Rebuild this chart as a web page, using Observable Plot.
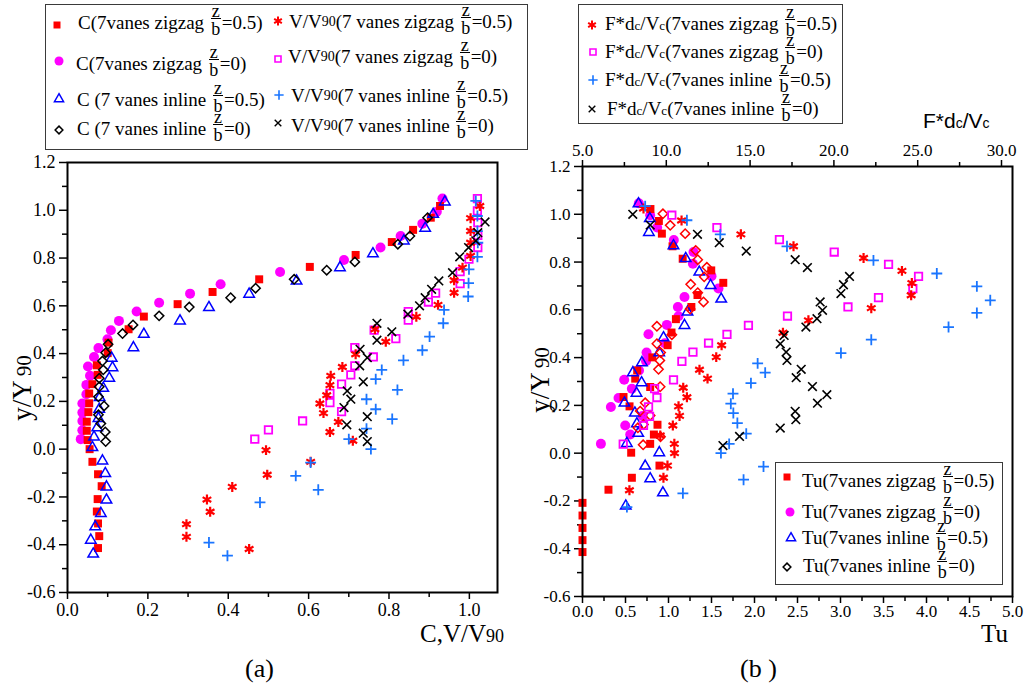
<!DOCTYPE html>
<html><head><meta charset="utf-8">
<script src="https://cdn.jsdelivr.net/npm/d3@7"></script>
<script src="https://cdn.jsdelivr.net/npm/@observablehq/plot@0.6"></script>
<style>
html,body{margin:0;padding:0;background:#fff;}
#root{position:relative;width:1026px;height:688px;overflow:hidden;font-family:"Liberation Serif","Times New Roman",serif;color:#000;}
.abs{position:absolute;white-space:nowrap;}
.box{position:absolute;border:1px solid #3a3a3a;box-sizing:border-box;background:#fff;}
.leg{position:absolute;white-space:nowrap;font-size:19px;line-height:19px;}
.frac{display:inline-block;position:relative;width:10px;height:0;margin:0 1px 0 2px;}
.frac .z,.frac .b{position:absolute;left:0;width:100%;text-align:center;line-height:16px;font-size:18px;}
.frac .z{bottom:10px;}
.frac .b{top:-8px;}
.frac .bar{position:absolute;left:0;width:100%;height:1px;background:#000;bottom:10px;}
.sm{font-size:14px;vertical-align:2px;}
.sc{font-size:13px;vertical-align:0px;}
.sym{position:absolute;overflow:visible;}
.rot{position:absolute;white-space:nowrap;transform:translate(-50%,-50%) rotate(-90deg);}
</style></head>
<body><div id="root"></div>
<script>
// ---------------- DATA: panel (a) ----------------
const aYTicks = [-0.6,-0.4,-0.2,0,0.2,0.4,0.6,0.8,1.0,1.2];
const aYMinor = [-0.5,-0.3,-0.1,0.1,0.3,0.5,0.7,0.9,1.1];
const aXTicks = [0,0.2,0.4,0.6,0.8,1.0];
const aXMinor = [0.1,0.3,0.5,0.7,0.9];

// C (7vanes zigzag z/b=0.5) red filled squares
const aCZig05X = [0.927,0.904,0.86,0.807,0.717,0.603,0.477,0.361,0.274,0.19,0.152,0.102,0.1,0.073,0.075,0.062,0.054,0.054,0.052,0.048,0.048,0.05,0.055,0.062,0.076,0.085,0.075,0.073,0.076,0.079,0.076];
const aCZig05Y = [1.018,0.969,0.918,0.867,0.813,0.763,0.711,0.658,0.607,0.555,0.502,0.446,0.402,0.351,0.311,0.272,0.233,0.192,0.155,0.115,0.077,0.038,0.0,-0.053,-0.105,-0.155,-0.209,-0.261,-0.311,-0.364,-0.414];
// C (7vanes zigzag z/b=0) magenta circles
const aCZig0X = [0.933,0.919,0.883,0.829,0.779,0.688,0.529,0.381,0.305,0.228,0.172,0.128,0.108,0.0995,0.077,0.066,0.051,0.056,0.047,0.047,0.037,0.037,0.037,0.037,0.033];
const aCZig0Y = [1.049,0.994,0.944,0.892,0.844,0.792,0.742,0.69,0.651,0.613,0.576,0.537,0.498,0.46,0.423,0.386,0.346,0.307,0.269,0.23,0.191,0.153,0.118,0.079,0.042];
// C (7 vanes inline z/b=0.5) blue open triangles
const aCIn05X = [0.939,0.91,0.89,0.837,0.76,0.678,0.57,0.452,0.352,0.28,0.19,0.164,0.11,0.112,0.104,0.089,0.08,0.079,0.077,0.074,0.066,0.062,0.087,0.094,0.097,0.097,0.083,0.069,0.058,0.064];
const aCIn05Y = [1.035,0.983,0.925,0.872,0.818,0.76,0.704,0.649,0.593,0.537,0.481,0.425,0.381,0.341,0.297,0.255,0.216,0.167,0.129,0.09,0.051,0.007,-0.049,-0.102,-0.158,-0.213,-0.269,-0.325,-0.381,-0.439];
// C (7 vanes inline z/b=0) black open diamonds
const aCIn0X = [0.896,0.852,0.822,0.715,0.645,0.564,0.468,0.406,0.303,0.228,0.163,0.137,0.101,0.095,0.087,0.089,0.079,0.079,0.077,0.091,0.077,0.083,0.094,0.095];
const aCIn0Y = [0.969,0.892,0.858,0.784,0.749,0.711,0.674,0.634,0.595,0.558,0.52,0.484,0.439,0.404,0.369,0.332,0.297,0.261,0.219,0.181,0.144,0.107,0.072,0.032];
// V/V90 (7 vanes zigzag z/b=0.5) red asterisks
const aVZig05X = [1.026,1.003,1.003,1.003,1.003,0.983,0.962,0.962,0.922,0.868,0.765,0.792,0.717,0.684,0.655,0.653,0.645,0.628,0.637,0.674,0.653,0.71,0.494,0.605,0.497,0.41,0.347,0.355,0.296,0.296,0.452];
const aVZig05Y = [1.018,0.967,0.913,0.864,0.809,0.76,0.707,0.655,0.604,0.554,0.502,0.45,0.397,0.344,0.307,0.268,0.226,0.191,0.151,0.114,0.072,0.035,-0.004,-0.053,-0.107,-0.158,-0.211,-0.262,-0.314,-0.367,-0.418];
// V/V90 (7 vanes zigzag z/b=0) magenta open squares
const aVZig0X = [1.02,1.02,1.021,1.021,1.021,0.999,0.977,0.977,0.916,0.898,0.848,0.848,0.763,0.817,0.715,0.761,0.715,0.705,0.682,0.653,0.653,0.682,0.585,0.5,0.466];
const aVZig0Y = [1.049,0.997,0.948,0.895,0.844,0.795,0.743,0.693,0.653,0.616,0.576,0.54,0.498,0.463,0.425,0.386,0.349,0.311,0.272,0.234,0.195,0.157,0.118,0.081,0.042];
// V/V90 (7 vanes inline z/b=0.5) blue plus
const aVIn05X = [1.016,1.02,1.02,1.021,1.02,0.999,0.998,0.997,0.937,0.935,0.901,0.883,0.836,0.782,0.767,0.821,0.744,0.767,0.808,0.744,0.70,0.755,0.605,0.568,0.624,0.479,0.352,0.398];
const aVIn05Y = [1.039,0.976,0.913,0.864,0.805,0.753,0.695,0.639,0.583,0.527,0.471,0.414,0.372,0.332,0.293,0.248,0.209,0.167,0.126,0.086,0.042,0.0,-0.056,-0.112,-0.17,-0.223,-0.391,-0.446];
// V/V90 (7 vanes inline z/b=0) black times
const aVIn0X = [1.039,1.021,1.016,0.998,0.976,0.958,0.924,0.906,0.89,0.876,0.847,0.77,0.807,0.77,0.728,0.746,0.727,0.736,0.696,0.705,0.688,0.746,0.695,0.736,0.746];
const aVIn0Y = [0.951,0.906,0.872,0.844,0.805,0.739,0.704,0.669,0.634,0.6,0.565,0.527,0.491,0.456,0.418,0.383,0.349,0.282,0.244,0.209,0.174,0.136,0.102,0.067,0.032];

// ---------------- DATA: panel (b) ----------------
const bYTicks = [-0.6,-0.4,-0.2,0,0.2,0.4,0.6,0.8,1.0,1.2];
const bYMinor = [-0.5,-0.3,-0.1,0.1,0.3,0.5,0.7,0.9,1.1];
const bTuTicks = [0,0.5,1.0,1.5,2.0,2.5,3.0,3.5,4.0,4.5,5.0];
const bTuMinor = [0.25,0.75,1.25,1.75,2.25,2.75,3.25,3.75,4.25,4.75];
const bFTicks = [5,10,15,20,25,30];
const bFMinor = [7.5,12.5,17.5,22.5,27.5];

// Tu (7vanes zigzag z/b=0.5) red filled squares
const bTuZig05X = [0.79,0.888,0.923,1.047,1.165,1.497,1.637,1.337,1.266,1.086,1.035,0.99,0.812,0.636,0.613,0.787,0.477,0.547,0.872,0.83,0.787,0.566,0.895,0.574,0.302,0.0,0.0,0.0,0.0,0.0];
const bTuZig05Y = [1.022,0.972,0.919,0.866,0.814,0.765,0.713,0.662,0.612,0.561,0.505,0.452,0.401,0.347,0.312,0.277,0.235,0.196,0.119,0.078,0.039,0.002,-0.052,-0.103,-0.153,-0.208,-0.261,-0.313,-0.364,-0.414];
// Tu (7vanes zigzag z/b=0) magenta circles
const bTuZig0X = [0.655,0.787,0.868,1.062,1.291,1.284,1.5,1.581,1.186,1.109,1.116,0.981,0.767,0.957,0.745,0.739,0.657,0.485,0.574,0.419,0.33,0.7,0.497,0.555,0.214];
const bTuZig0Y = [1.046,0.996,0.945,0.892,0.842,0.793,0.741,0.689,0.654,0.612,0.573,0.537,0.498,0.46,0.421,0.385,0.346,0.307,0.27,0.231,0.193,0.156,0.116,0.078,0.039];
// Tu (7vanes inline z/b=0.5) blue open triangles
const bTuIn05X = [0.651,0.783,0.772,1.058,1.2,1.358,1.489,1.613,1.221,1.186,0.942,0.892,0.691,0.586,0.687,0.628,0.488,0.609,0.632,0.648,0.516,0.893,0.729,0.787,0.935,0.503];
const bTuIn05Y = [1.044,0.982,0.924,0.868,0.815,0.758,0.702,0.645,0.591,0.535,0.483,0.421,0.379,0.337,0.295,0.251,0.21,0.168,0.123,0.083,0.041,0.002,-0.054,-0.107,-0.166,-0.221];
// Tu (7vanes inline z/b=0) open diamonds (drawn red in the figure)
const bTuIn0X = [0.935,1.02,1.194,1.316,1.34,1.446,1.415,1.258,1.34,1.407,1.252,0.865,1.039,0.865,0.909,0.899,0.884,0.903,0.729,0.671,0.787,0.709,0.644,0.907,0.705];
const bTuIn0Y = [1.002,0.954,0.919,0.849,0.81,0.778,0.738,0.707,0.672,0.633,0.603,0.531,0.496,0.458,0.421,0.388,0.351,0.278,0.211,0.176,0.158,0.12,0.106,0.069,0.035];
// F*dc/Vc (7vanes zigzag z/b=0.5) red asterisks
const bFZig05X = [8.64,10.91,14.45,17.59,21.77,24.06,24.65,24.61,22.23,18.48,16.96,13.3,12.98,11.98,12.46,11.01,11.23,10.73,10.79,10.39,9.64,10.48,10.49,10.07,9.83,7.8];
const bFZig05Y = [1.024,0.974,0.916,0.866,0.817,0.763,0.712,0.661,0.607,0.556,0.504,0.452,0.402,0.349,0.312,0.274,0.234,0.196,0.156,0.116,0.074,0.039,0.0,-0.052,-0.103,-0.155];
// F*dc/Vc (7vanes zigzag z/b=0) magenta open squares
const bFZig0X = [10.33,13.02,16.75,20.02,23.26,25.05,24.71,22.66,20.84,17.23,14.9,13.62,12.52,11.59,10.93,10.43,9.3,9.44,8.94,9.0,8.64,7.43];
const bFZig0Y = [0.996,0.944,0.894,0.842,0.79,0.74,0.689,0.651,0.612,0.574,0.535,0.497,0.461,0.423,0.384,0.307,0.27,0.233,0.194,0.154,0.116,0.038];
// F*dc/Vc (7vanes inline z/b=0.5) blue plus
const bFIn05X = [8.74,11.23,13.22,17.2,22.36,26.14,28.53,29.33,28.53,26.84,22.23,20.42,15.45,15.9,15.05,13.98,13.85,14.0,14.24,14.77,13.75,13.26,15.8,14.61,10.99,7.65];
const bFIn05Y = [1.034,0.975,0.916,0.866,0.807,0.752,0.698,0.64,0.587,0.528,0.475,0.419,0.376,0.337,0.293,0.249,0.207,0.168,0.126,0.082,0.039,0.0,-0.056,-0.111,-0.168,-0.226];
// F*dc/Vc (7vanes inline z/b=0) black times
const bFIn0X = [8.0,9.04,11.86,13.16,14.77,17.69,18.42,20.93,20.57,20.42,19.18,19.32,18.99,18.33,17.03,16.8,17.15,17.2,18.05,17.75,18.72,19.58,19.02,17.69,17.73,16.8,14.37,13.38];
const bFIn0Y = [1.0,0.955,0.916,0.881,0.846,0.81,0.777,0.74,0.705,0.668,0.633,0.598,0.563,0.528,0.493,0.458,0.423,0.388,0.351,0.316,0.279,0.245,0.209,0.175,0.14,0.105,0.07,0.032];

// ---------------- STYLES ----------------
const RED = "#ff0000", MAG = "#ff00ff", BLUE = "#0000ff", PLUSB = "#1a75ff", BLK = "#000000";
const S = {
  sqFill:  {symbol: "square", fill: RED, r: 4.5},
  circ:    {symbol: "circle", fill: MAG, r: 5},
  tri:     {symbol: "triangle", fill: "none", stroke: BLUE, strokeWidth: 1.5, r: 3.9},
  dia:     {symbol: "diamond2", fill: "none", stroke: BLK, strokeWidth: 1.5, r: 4.2},
  diaRed:  {symbol: "diamond2", fill: "none", stroke: RED, strokeWidth: 1.5, r: 4.2},
  ast:     {symbol: "asterisk", stroke: RED, strokeWidth: 2.2, r: 4.7},
  sqOpen:  {symbol: "square", fill: "none", stroke: MAG, strokeWidth: 1.8, r: 4.2},
  plus:    {symbol: "plus", stroke: PLUSB, strokeWidth: 1.8, r: 3.6},
  times:   {symbol: "times", stroke: BLK, strokeWidth: 1.6, r: 4}
};
function dots(xs, ys, st) {
  return Plot.dot(d3.zip(xs, ys), {x: d => d[0], y: d => d[1], ...st});
}
const fmt = d => d.toFixed(1);

const root = document.getElementById("root");
function place(node, left, top) {
  const div = document.createElement("div");
  div.className = "abs"; div.style.left = left + "px"; div.style.top = top + "px";
  div.appendChild(node); root.appendChild(div); return div;
}

// ---------------- PANEL (a) ----------------
const plotA = Plot.plot({
  width: 530, height: 490,
  marginLeft: 67, marginRight: 33, marginTop: 12, marginBottom: 48,
  style: {fontFamily: "Liberation Serif", fontSize: "18px", background: "transparent", color: "#000", overflow: "visible"},
  x: {domain: [0, 1.07], axis: null},
  y: {domain: [-0.6, 1.2], axis: null},
  marks: [
    Plot.axisY(aYTicks, {anchor: "left", tickSize: 8, tickPadding: 4, tickFormat: fmt, strokeWidth: 1.5, label: null}),
    Plot.axisY(aYMinor, {anchor: "left", tickSize: 5, tickFormat: () => "", strokeWidth: 1.5, label: null}),
    Plot.axisX(aXTicks, {anchor: "bottom", tickSize: 7, tickPadding: 4, tickFormat: fmt, strokeWidth: 1.5, label: null}),
    Plot.axisX(aXMinor, {anchor: "bottom", tickSize: 5, tickFormat: () => "", strokeWidth: 1.5, label: null}),
    dots(aCZig0X, aCZig0Y, S.circ),
    dots(aCZig05X, aCZig05Y, S.sqFill),
    dots(aCIn05X, aCIn05Y, S.tri),
    dots(aCIn0X, aCIn0Y, S.dia),
    dots(aVZig0X, aVZig0Y, S.sqOpen),
    dots(aVZig05X, aVZig05Y, S.ast),
    dots(aVIn05X, aVIn05Y, S.plus),
    dots(aVIn0X, aVIn0Y, S.times),
    Plot.frame({stroke: "#000", strokeWidth: 2})
  ]
});
place(plotA, 0, 150);

// ---------------- PANEL (b) ----------------
const bFDomain = [5, 5 + 430 / 16.76];
const plotB = Plot.plot({
  width: 496, height: 500,
  marginLeft: 52, marginRight: 14, marginTop: 36, marginBottom: 34,
  style: {fontFamily: "Liberation Serif", fontSize: "17px", background: "transparent", color: "#000", overflow: "visible"},
  x: {domain: [0, 5], axis: null},
  y: {domain: [-0.6, 1.2], axis: null},
  marks: [
    Plot.axisY(bYTicks, {anchor: "left", tickSize: 8, tickPadding: 4, tickFormat: fmt, strokeWidth: 1.5, label: null}),
    Plot.axisY(bYMinor, {anchor: "left", tickSize: 5, tickFormat: () => "", strokeWidth: 1.5, label: null}),
    Plot.axisX(bTuTicks, {anchor: "bottom", tickSize: 7, tickPadding: 1, tickFormat: fmt, strokeWidth: 1.5, label: null}),
    Plot.axisX(bTuMinor, {anchor: "bottom", tickSize: 5, tickFormat: () => "", strokeWidth: 1.5, label: null}),
    dots(bTuZig0X, bTuZig0Y, S.circ),
    dots(bTuZig05X, bTuZig05Y, S.sqFill),
    dots(bTuIn05X, bTuIn05Y, S.tri),
    dots(bTuIn0X, bTuIn0Y, S.diaRed),
    Plot.frame({stroke: "#000", strokeWidth: 2})
  ]
});
place(plotB, 530, 130);

const plotBF = Plot.plot({
  width: 496, height: 500,
  marginLeft: 52, marginRight: 14, marginTop: 36, marginBottom: 34,
  style: {fontFamily: "Liberation Serif", fontSize: "17px", background: "transparent", color: "#000", overflow: "visible"},
  x: {domain: bFDomain, axis: null},
  y: {domain: [-0.6, 1.2], axis: null},
  marks: [
    Plot.axisX(bFTicks, {anchor: "top", tickSize: 7, tickPadding: 4, tickFormat: fmt, strokeWidth: 1.5, label: null}),
    Plot.axisX(bFMinor, {anchor: "top", tickSize: 5, tickFormat: () => "", strokeWidth: 1.5, label: null}),
    dots(bFZig0X, bFZig0Y, S.sqOpen),
    dots(bFZig05X, bFZig05Y, S.ast),
    dots(bFIn05X, bFIn05Y, S.plus),
    dots(bFIn0X, bFIn0Y, S.times)
  ]
});
place(plotBF, 530, 130);

// ---------------- TEXT: axis titles & panel tags ----------------
function html(str, cls, css) {
  const d = document.createElement("div");
  d.className = cls; d.innerHTML = str;
  Object.assign(d.style, css); root.appendChild(d); return d;
}
html('y/Y<span style="font-size:21px;margin-left:4px">90</span>', "rot", {left: "22px", top: "388px", fontSize: "27px"});
html('y/Y<span style="font-size:21px;margin-left:4px">90</span>', "rot", {left: "540px", top: "380px", fontSize: "27px"});
html('C,V/V<span style="font-size:18px">90</span>', "abs", {left: "420px", top: "621px", fontSize: "25px", lineHeight: "25px"});
html('Tu', "abs", {left: "981px", top: "621px", fontSize: "25px", lineHeight: "25px"});
html('(a)', "abs", {left: "245px", top: "656px", fontSize: "26px", lineHeight: "26px"});
html('(b )', "abs", {left: "740px", top: "656px", fontSize: "26px", lineHeight: "26px"});
html('F*d<span style="font-size:14px">c</span>/V<span style="font-size:14px">c</span>', "abs",
     {left: "923px", top: "110px", fontSize: "21px", lineHeight: "21px", fontFamily: '"Liberation Sans", Arial, sans-serif'});

// ---------------- LEGENDS ----------------
const FR = '<span class="frac"><span class="z">z</span><span class="bar"></span><span class="b">b</span></span>';
const V90 = 'V/V<span class="sm">90</span>';
const DC = 'F*d<span class="sc">c</span>/V<span class="sc">c</span>';

const legendBoxes = [
  {l: 45, t: 4, w: 483, h: 146},
  {l: 578, t: 4, w: 265, h: 120},
  {l: 775, t: 462, w: 228, h: 123}
];
const SYM = {
  sqFill: {type: d3.symbolSquare, size: 49, fill: RED, stroke: "none", sw: 0},
  circ:   {type: d3.symbolCircle, size: 64, fill: MAG, stroke: "none", sw: 0},
  tri:    {type: d3.symbolTriangle, size: 36, fill: "none", stroke: BLUE, sw: 1.5},
  dia:    {type: d3.symbolDiamond2, size: 38, fill: "none", stroke: BLK, sw: 1.5},
  ast:    {type: d3.symbolAsterisk, size: 56, fill: "none", stroke: RED, sw: 2},
  sqOpen: {type: d3.symbolSquare, size: 36, fill: "none", stroke: MAG, sw: 1.6},
  plus:   {type: d3.symbolPlus, size: 30, fill: "none", stroke: PLUSB, sw: 1.6},
  times:  {type: d3.symbolX, size: 30, fill: "none", stroke: BLK, sw: 1.4}
};
const legendItems = [
  // panel (a)
  {s: "sqFill", cx: 57, cy: 25, left: 78, base: 29, txt: `C(7vanes zigzag ${FR}=0.5)`},
  {s: "circ", cx: 59, cy: 61, left: 76, base: 70, txt: `C(7vanes zigzag ${FR}=0)`},
  {s: "tri", cx: 59, cy: 99, left: 77, base: 106, txt: `C (7 vanes inline ${FR}=0.5)`},
  {s: "dia", cx: 59, cy: 130, left: 77, base: 135, txt: `C (7 vanes inline ${FR}=0)`},
  {s: "ast", cx: 278, cy: 21, left: 289, base: 28, txt: `${V90}(7 vanes zigzag ${FR}=0.5)`},
  {s: "sqOpen", cx: 278, cy: 59, left: 288, base: 63, txt: `${V90}(7 vanes zigzag ${FR}=0)`},
  {s: "plus", cx: 279, cy: 95, left: 291, base: 102, txt: `${V90}(7 vanes inline ${FR}=0.5)`},
  {s: "times", cx: 278, cy: 123, left: 291, base: 132, txt: `${V90}(7 vanes inline ${FR}=0)`},
  // panel (b) top
  {s: "ast", cx: 592, cy: 25, left: 605, base: 30, txt: `${DC}(7vanes zigzag ${FR}=0.5)`},
  {s: "sqOpen", cx: 593, cy: 52, left: 605, base: 58, txt: `${DC}(7vanes zigzag ${FR}=0)`},
  {s: "plus", cx: 593, cy: 80, left: 605, base: 86, txt: `${DC}(7vanes inline ${FR}=0.5)`},
  {s: "times", cx: 592, cy: 109, left: 607, base: 115, txt: `${DC}(7vanes inline ${FR}=0)`},
  // panel (b) bottom
  {s: "sqFill", cx: 787, cy: 477, left: 802, base: 487, txt: `Tu(7vanes zigzag ${FR}=0.5)`},
  {s: "circ", cx: 790, cy: 512, left: 802, base: 518, txt: `Tu(7vanes zigzag ${FR}=0)`},
  {s: "tri", cx: 791, cy: 538, left: 802, base: 544, txt: `Tu(7vanes inline ${FR}=0.5)`},
  {s: "dia", cx: 787, cy: 567, left: 803, base: 572, txt: `Tu(7vanes inline ${FR}=0)`}
];

for (const b of legendBoxes) {
  html("", "box", {left: b.l + "px", top: b.t + "px", width: b.w + "px", height: b.h + "px"});
}
for (const it of legendItems) {
  const sp = SYM[it.s];
  const svg = d3.create("svg").attr("class", "sym").attr("width", 20).attr("height", 20)
    .style("left", (it.cx - 10) + "px").style("top", (it.cy - 10) + "px");
  svg.append("path").attr("transform", "translate(10,10)")
    .attr("d", d3.symbol(sp.type, sp.size)())
    .attr("fill", sp.fill).attr("stroke", sp.stroke).attr("stroke-width", sp.sw);
  root.appendChild(svg.node());
  html(it.txt, "leg", {left: it.left + "px", top: (it.base - 16) + "px"});
}
</script>
</body></html>
